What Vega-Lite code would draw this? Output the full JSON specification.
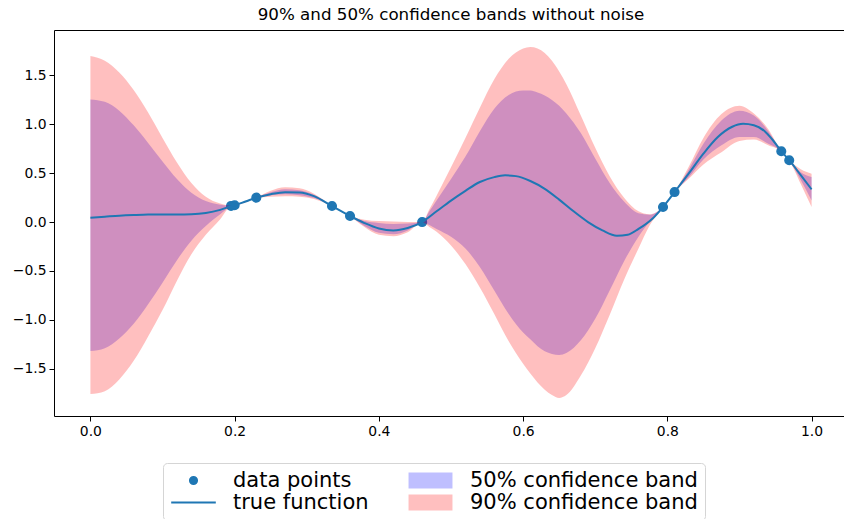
{
  "$schema": "https://vega.github.io/schema/vega-lite/v6.json",
  "width": 794,
  "height": 386,
  "autosize": {"type": "none"},
  "padding": {"left": 54, "top": 30, "right": 0, "bottom": 103},
  "background": "white",
  "title": {
    "text": "90% and 50% confidence bands without noise",
    "font": "DejaVu Sans",
    "fontSize": 16.7,
    "fontWeight": "normal",
    "color": "black",
    "anchor": "middle",
    "baseline": "alphabetic",
    "offset": 8,
    "dy": 15
  },
  "config": {
    "font": "DejaVu Sans",
    "view": {"stroke": "black", "strokeWidth": 1},
    "axis": {
      "grid": false,
      "domain": false,
      "title": null,
      "tickSize": 5,
      "tickColor": "black",
      "tickWidth": 1,
      "labelFont": "DejaVu Sans",
      "labelFontSize": 13.9,
      "labelColor": "black",
      "labelPadding": 3,
      "format": ".1f"
    },
    "legend": {
      "orient": "none",
      "legendX": 109,
      "legendY": 433,
      "columns": 2,
      "columnPadding": 38,
      "rowPadding": 0,
      "clipHeight": 21,
      "padding": 7,
      "strokeColor": "#d5d5d5",
      "fillColor": "white",
      "cornerRadius": 4,
      "labelFont": "DejaVu Sans",
      "labelFontSize": 21,
      "labelColor": "black",
      "labelLimit": 400,
      "labelOffset": 16,
      "symbolSize": 1990,
      "symbolStrokeWidth": 2
    }
  },
  "datasets": {
    "observed": [
      {"x": 0.195, "y": 0.165},
      {"x": 0.2, "y": 0.172},
      {"x": 0.23, "y": 0.25},
      {"x": 0.335, "y": 0.164},
      {"x": 0.36, "y": 0.062},
      {"x": 0.46, "y": 0.0},
      {"x": 0.794, "y": 0.154},
      {"x": 0.81, "y": 0.307},
      {"x": 0.958, "y": 0.725},
      {"x": 0.969, "y": 0.633}
    ],
    "truth": [
      {"x": 0.0, "y": 0.045}, {"x": 0.02, "y": 0.055}, {"x": 0.04, "y": 0.065},
      {"x": 0.06, "y": 0.072}, {"x": 0.08, "y": 0.077}, {"x": 0.1, "y": 0.078},
      {"x": 0.12, "y": 0.077}, {"x": 0.14, "y": 0.079}, {"x": 0.16, "y": 0.092},
      {"x": 0.18, "y": 0.125}, {"x": 0.195, "y": 0.163}, {"x": 0.2, "y": 0.172},
      {"x": 0.215, "y": 0.21}, {"x": 0.23, "y": 0.25}, {"x": 0.25, "y": 0.285},
      {"x": 0.27, "y": 0.305}, {"x": 0.29, "y": 0.303}, {"x": 0.31, "y": 0.265},
      {"x": 0.335, "y": 0.164}, {"x": 0.36, "y": 0.062}, {"x": 0.38, "y": -0.01},
      {"x": 0.4, "y": -0.065}, {"x": 0.42, "y": -0.085}, {"x": 0.44, "y": -0.06},
      {"x": 0.46, "y": 0.0}, {"x": 0.48, "y": 0.11}, {"x": 0.5, "y": 0.22},
      {"x": 0.52, "y": 0.32}, {"x": 0.54, "y": 0.41}, {"x": 0.56, "y": 0.46},
      {"x": 0.575, "y": 0.478}, {"x": 0.59, "y": 0.47}, {"x": 0.61, "y": 0.42},
      {"x": 0.63, "y": 0.34}, {"x": 0.65, "y": 0.23}, {"x": 0.67, "y": 0.11},
      {"x": 0.69, "y": 0.0}, {"x": 0.71, "y": -0.085}, {"x": 0.73, "y": -0.14},
      {"x": 0.745, "y": -0.13}, {"x": 0.76, "y": -0.07}, {"x": 0.78, "y": 0.04},
      {"x": 0.794, "y": 0.154}, {"x": 0.81, "y": 0.307}, {"x": 0.83, "y": 0.5},
      {"x": 0.85, "y": 0.7}, {"x": 0.87, "y": 0.87}, {"x": 0.89, "y": 0.975},
      {"x": 0.905, "y": 1.005}, {"x": 0.92, "y": 0.99}, {"x": 0.935, "y": 0.93},
      {"x": 0.945, "y": 0.85}, {"x": 0.958, "y": 0.725}, {"x": 0.969, "y": 0.633},
      {"x": 0.985, "y": 0.48}, {"x": 1.0, "y": 0.335}
    ],
    "bands": [
      {"x": 0.0, "hi90": 1.7, "hi50": 1.255, "lo50": -1.32, "lo90": -1.76},
      {"x": 0.02, "hi90": 1.65, "hi50": 1.23, "lo50": -1.29, "lo90": -1.73},
      {"x": 0.04, "hi90": 1.53, "hi50": 1.14, "lo50": -1.19, "lo90": -1.61},
      {"x": 0.06, "hi90": 1.35, "hi50": 0.99, "lo50": -1.04, "lo90": -1.42},
      {"x": 0.08, "hi90": 1.12, "hi50": 0.81, "lo50": -0.84, "lo90": -1.17},
      {"x": 0.1, "hi90": 0.86, "hi50": 0.62, "lo50": -0.62, "lo90": -0.9},
      {"x": 0.12, "hi90": 0.61, "hi50": 0.44, "lo50": -0.39, "lo90": -0.6},
      {"x": 0.14, "hi90": 0.4, "hi50": 0.3, "lo50": -0.19, "lo90": -0.33},
      {"x": 0.16, "hi90": 0.26, "hi50": 0.215, "lo50": -0.04, "lo90": -0.13},
      {"x": 0.18, "hi90": 0.19, "hi50": 0.178, "lo50": 0.08, "lo90": 0.03},
      {"x": 0.195, "hi90": 0.168, "hi50": 0.167, "lo50": 0.163, "lo90": 0.162},
      {"x": 0.2, "hi90": 0.172, "hi50": 0.171, "lo50": 0.169, "lo90": 0.168},
      {"x": 0.215, "hi90": 0.215, "hi50": 0.212, "lo50": 0.205, "lo90": 0.2},
      {"x": 0.23, "hi90": 0.252, "hi50": 0.251, "lo50": 0.249, "lo90": 0.248},
      {"x": 0.25, "hi90": 0.32, "hi50": 0.305, "lo50": 0.275, "lo90": 0.26},
      {"x": 0.27, "hi90": 0.355, "hi50": 0.335, "lo50": 0.285, "lo90": 0.265},
      {"x": 0.29, "hi90": 0.345, "hi50": 0.325, "lo50": 0.275, "lo90": 0.26},
      {"x": 0.31, "hi90": 0.29, "hi50": 0.28, "lo50": 0.245, "lo90": 0.235},
      {"x": 0.335, "hi90": 0.166, "hi50": 0.165, "lo50": 0.163, "lo90": 0.162},
      {"x": 0.36, "hi90": 0.063, "hi50": 0.062, "lo50": 0.061, "lo90": 0.06},
      {"x": 0.38, "hi90": 0.025, "hi50": 0.01, "lo50": -0.04, "lo90": -0.05},
      {"x": 0.4, "hi90": 0.01, "hi50": -0.01, "lo50": -0.11, "lo90": -0.13},
      {"x": 0.42, "hi90": 0.005, "hi50": -0.02, "lo50": -0.125, "lo90": -0.145},
      {"x": 0.44, "hi90": 0.0, "hi50": -0.015, "lo50": -0.085, "lo90": -0.105},
      {"x": 0.46, "hi90": 0.001, "hi50": 0.0, "lo50": -0.001, "lo90": -0.002},
      {"x": 0.47, "hi90": 0.13, "hi50": 0.11, "lo50": -0.03, "lo90": -0.05},
      {"x": 0.48, "hi90": 0.27, "hi50": 0.22, "lo50": -0.07, "lo90": -0.1},
      {"x": 0.5, "hi90": 0.56, "hi50": 0.44, "lo50": -0.15, "lo90": -0.24},
      {"x": 0.52, "hi90": 0.86, "hi50": 0.67, "lo50": -0.27, "lo90": -0.43},
      {"x": 0.54, "hi90": 1.17, "hi50": 0.93, "lo50": -0.46, "lo90": -0.67},
      {"x": 0.56, "hi90": 1.46, "hi50": 1.16, "lo50": -0.7, "lo90": -0.94},
      {"x": 0.58, "hi90": 1.67, "hi50": 1.3, "lo50": -0.94, "lo90": -1.22},
      {"x": 0.6, "hi90": 1.775, "hi50": 1.345, "lo50": -1.13, "lo90": -1.45},
      {"x": 0.61, "hi90": 1.79, "hi50": 1.345, "lo50": -1.2, "lo90": -1.55},
      {"x": 0.62, "hi90": 1.775, "hi50": 1.325, "lo50": -1.27, "lo90": -1.64},
      {"x": 0.64, "hi90": 1.65, "hi50": 1.25, "lo50": -1.35, "lo90": -1.77},
      {"x": 0.65, "hi90": 1.54, "hi50": 1.19, "lo50": -1.36, "lo90": -1.8},
      {"x": 0.66, "hi90": 1.41, "hi50": 1.11, "lo50": -1.34, "lo90": -1.77},
      {"x": 0.68, "hi90": 1.09, "hi50": 0.91, "lo50": -1.21, "lo90": -1.57},
      {"x": 0.7, "hi90": 0.76, "hi50": 0.65, "lo50": -0.99, "lo90": -1.29},
      {"x": 0.72, "hi90": 0.47, "hi50": 0.4, "lo50": -0.7, "lo90": -0.95},
      {"x": 0.74, "hi90": 0.25, "hi50": 0.21, "lo50": -0.4, "lo90": -0.59},
      {"x": 0.76, "hi90": 0.11, "hi50": 0.09, "lo50": -0.15, "lo90": -0.27},
      {"x": 0.775, "hi90": 0.08, "hi50": 0.075, "lo50": 0.0, "lo90": -0.04},
      {"x": 0.794, "hi90": 0.155, "hi50": 0.155, "lo50": 0.153, "lo90": 0.152},
      {"x": 0.81, "hi90": 0.308, "hi50": 0.307, "lo50": 0.306, "lo90": 0.305},
      {"x": 0.83, "hi90": 0.57, "hi50": 0.54, "lo50": 0.46, "lo90": 0.445},
      {"x": 0.85, "hi90": 0.86, "hi50": 0.8, "lo50": 0.64, "lo90": 0.59},
      {"x": 0.875, "hi90": 1.105, "hi50": 1.04, "lo50": 0.785, "lo90": 0.715},
      {"x": 0.9, "hi90": 1.19, "hi50": 1.14, "lo50": 0.87, "lo90": 0.83},
      {"x": 0.92, "hi90": 1.11, "hi50": 1.09, "lo50": 0.87, "lo90": 0.845},
      {"x": 0.94, "hi90": 0.95, "hi50": 0.93, "lo50": 0.8, "lo90": 0.785},
      {"x": 0.958, "hi90": 0.727, "hi50": 0.726, "lo50": 0.724, "lo90": 0.723},
      {"x": 0.969, "hi90": 0.634, "hi50": 0.633, "lo50": 0.632, "lo90": 0.631},
      {"x": 0.985, "hi90": 0.54, "hi50": 0.51, "lo50": 0.43, "lo90": 0.39},
      {"x": 1.0, "hi90": 0.495, "hi50": 0.46, "lo50": 0.22, "lo90": 0.155}
    ]
  },
  "layer": [
    {
      "data": {"name": "observed"},
      "mark": {"type": "point", "filled": true, "size": 2889, "opacity": 1, "stroke": "#1f77b4", "strokeWidth": 1.5},
      "encoding": {
        "x": {
          "field": "x", "type": "quantitative",
          "scale": {"domain": [-0.0505, 1.0505], "nice": false, "zero": false},
          "axis": {"values": [0, 0.2, 0.4, 0.6, 0.8, 1.0]}
        },
        "y": {
          "field": "y", "type": "quantitative",
          "scale": {"domain": [-1.984, 1.965], "nice": false, "zero": false},
          "axis": {"values": [-1.5, -1.0, -0.5, 0, 0.5, 1.0, 1.5]}
        },
        "color": {
          "datum": "data points", "type": "nominal",
          "scale": {
            "domain": ["data points", "true function", "50% confidence band", "90% confidence band"],
            "range": ["#1f77b4", "#1f77b4", "rgba(0,0,255,0.25)", "rgba(255,0,0,0.25)"]
          },
          "legend": {"title": null}
        },
        "shape": {
          "datum": "data points", "type": "nominal",
          "scale": {
            "domain": ["data points", "true function", "50% confidence band", "90% confidence band"],
            "range": [
              "M0.16,0A0.16,0.16 0 1,1 -0.16,0A0.16,0.16 0 1,1 0.16,0Z",
              "stroke",
              "M-0.985,-0.314H0.985M-0.985,-0.224H0.985M-0.985,-0.1345H0.985M-0.985,-0.0448H0.985M-0.985,0.0448H0.985M-0.985,0.1345H0.985M-0.985,0.224H0.985M-0.985,0.314H0.985",
              "M-0.985,-0.314H0.985M-0.985,-0.224H0.985M-0.985,-0.1345H0.985M-0.985,-0.0448H0.985M-0.985,0.0448H0.985M-0.985,0.1345H0.985M-0.985,0.224H0.985M-0.985,0.314H0.985"
            ]
          },
          "legend": {"title": null}
        }
      }
    },
    {
      "data": {"name": "bands"},
      "mark": {"type": "area", "interpolate": "monotone", "opacity": 1},
      "encoding": {
        "x": {"field": "x", "type": "quantitative"},
        "y": {"field": "lo50", "type": "quantitative"},
        "y2": {"field": "hi50"},
        "color": {"datum": "50% confidence band", "type": "nominal"}
      }
    },
    {
      "data": {"name": "bands"},
      "mark": {"type": "area", "interpolate": "monotone", "opacity": 1},
      "encoding": {
        "x": {"field": "x", "type": "quantitative"},
        "y": {"field": "lo90", "type": "quantitative"},
        "y2": {"field": "hi90"},
        "color": {"datum": "90% confidence band", "type": "nominal"}
      }
    },
    {
      "data": {"name": "truth"},
      "mark": {"type": "line", "interpolate": "monotone", "strokeWidth": 2, "opacity": 1},
      "encoding": {
        "x": {"field": "x", "type": "quantitative"},
        "y": {"field": "y", "type": "quantitative"},
        "color": {"datum": "true function", "type": "nominal"}
      }
    }
  ]
}
